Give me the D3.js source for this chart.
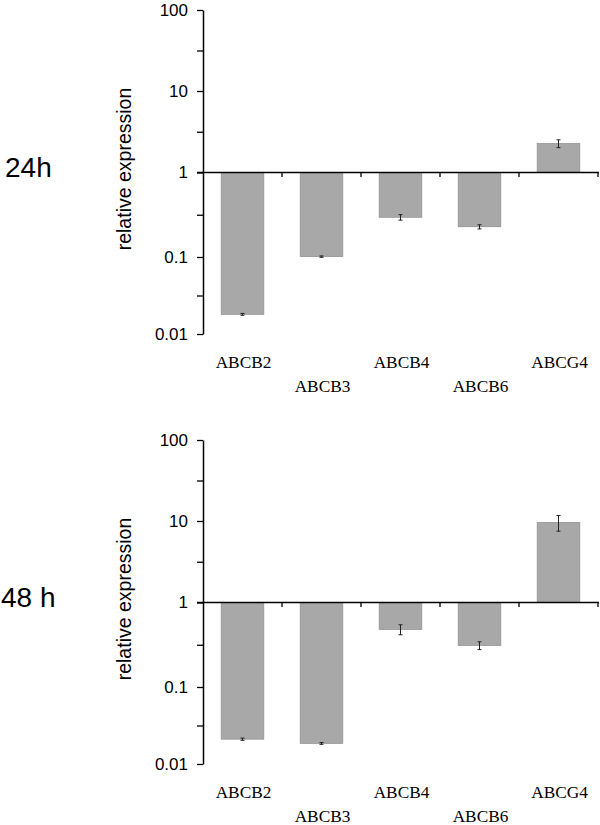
<!DOCTYPE html>
<html>
<head>
<meta charset="utf-8">
<script src="https://cdn.jsdelivr.net/npm/d3@7"></script>
<style>
  html, body { margin: 0; padding: 0; background: #fff; }
  svg { display: block; }
</style>
</head>
<body>
<script>
// ---- data ----
const categories = ["ABCB2", "ABCB3", "ABCB4", "ABCB6", "ABCG4"];
const values24h = [0.018, 0.101, 0.295, 0.228, 2.27];
const errors24h = [0.0005, 0.002, 0.022, 0.013, 0.25];
const values48h = [0.021, 0.0185, 0.48, 0.31, 9.6];
const errors48h = [0.0007, 0.0005, 0.065, 0.033, 2.1];
const yTickValues = [0.01, 0.1, 1, 10, 100];
const yTickLabels = ["0.01", "0.1", "1", "10", "100"];
const panelTitles = ["24h", "48 h"];
const yAxisTitle = "relative expression";

const W = 600, H = 825;
const svg = d3.select("body").append("svg").attr("width", W).attr("height", H);

const SANS = "'Liberation Sans', Arial, Helvetica, sans-serif";
const SERIF = "'Liberation Serif', 'Times New Roman', serif";

const x = d3.scaleBand().domain(categories).range([203, 598]).padding(0);
const y = d3.scaleLog()
  .domain(yTickValues)
  .range([334, 257, 172.5, 91, 10]);

const minorTicks = yTickValues.slice(0, -1).map(v => v * Math.sqrt(10));
const allTicks = yTickValues.concat(minorTicks).sort((a, b) => a - b);

function drawPanel(offsetY, values, errors, title) {
  const g = svg.append("g").attr("transform", `translate(0,${offsetY})`);
  const barW = x.bandwidth() * 0.54;
  const barOff = (x.bandwidth() - barW) / 2;
  const data = categories.map((c, i) => ({ c, v: values[i], e: errors[i], i }));

  // bars
  g.selectAll("rect.bar").data(data).enter().append("rect")
    .attr("class", "bar")
    .attr("x", d => x(d.c) + barOff)
    .attr("width", barW)
    .attr("y", d => Math.min(y(d.v), y(1)))
    .attr("height", d => Math.abs(y(d.v) - y(1)))
    .attr("fill", "#a8a8a8")
    .attr("stroke", "#8e8e8e")
    .attr("stroke-width", 0.7);

  // error bars
  const eb = g.selectAll("g.err").data(data).enter().append("g").attr("class", "err");
  const cx = d => x(d.c) + x.bandwidth() / 2;
  eb.append("line")
    .attr("x1", cx).attr("x2", cx)
    .attr("y1", d => y(d.v + d.e)).attr("y2", d => y(Math.max(d.v - d.e, 1e-4)))
    .attr("stroke", "#222").attr("stroke-width", 1);
  eb.append("line")
    .attr("x1", d => cx(d) - 2).attr("x2", d => cx(d) + 2)
    .attr("y1", d => y(d.v + d.e)).attr("y2", d => y(d.v + d.e))
    .attr("stroke", "#222").attr("stroke-width", 1);
  eb.append("line")
    .attr("x1", d => cx(d) - 2).attr("x2", d => cx(d) + 2)
    .attr("y1", d => y(Math.max(d.v - d.e, 1e-4))).attr("y2", d => y(Math.max(d.v - d.e, 1e-4)))
    .attr("stroke", "#222").attr("stroke-width", 1);

  // y axis
  const yAxis = d3.axisLeft(y)
    .tickValues(allTicks)
    .tickSize(6)
    .tickSizeOuter(0)
    .tickPadding(9)
    .tickFormat(d => {
      const idx = yTickValues.indexOf(d);
      return idx >= 0 ? yTickLabels[idx] : "";
    });
  const ya = g.append("g").attr("transform", "translate(203,0)").call(yAxis);
  ya.select(".domain").attr("stroke", "#000").attr("stroke-width", 1.5);
  ya.selectAll(".tick line").attr("stroke", "#000").attr("stroke-width", 1.3);
  ya.selectAll(".tick text")
    .attr("font-family", SANS).attr("font-size", 17).attr("fill", "#000");

  // x axis line at value 1
  const y1 = y(1);
  g.append("line")
    .attr("x1", 197).attr("x2", 599)
    .attr("y1", y1).attr("y2", y1)
    .attr("stroke", "#000").attr("stroke-width", 1.5);
  g.selectAll("line.xtick").data(categories).enter().append("line")
    .attr("class", "xtick")
    .attr("x1", c => x(c) + x.bandwidth()).attr("x2", c => x(c) + x.bandwidth())
    .attr("y1", y1).attr("y2", y1 + 4.5)
    .attr("stroke", "#000").attr("stroke-width", 1.3);

  // category labels, staggered
  g.selectAll("text.cat").data(categories).enter().append("text")
    .attr("class", "cat")
    .attr("x", c => x(c) + x.bandwidth() / 2 + 1)
    .attr("y", (c, i) => i % 2 === 0 ? 368.3 : 391.7)
    .attr("text-anchor", "middle")
    .attr("font-family", SERIF).attr("font-size", 17.3).attr("fill", "#000")
    .text(c => c);

  // y axis title
  g.append("text")
    .attr("transform", `translate(131,169) rotate(-90)`)
    .attr("text-anchor", "middle")
    .attr("font-family", SANS).attr("font-size", 19.5).attr("fill", "#000")
    .text(yAxisTitle);

  // panel title
  g.append("text")
    .attr("x", title === "24h" ? 5 : 1)
    .attr("y", title === "24h" ? 176.7 : 176.7)
    .attr("font-family", SANS).attr("font-size", 28).attr("fill", "#000")
    .text(title);
}

drawPanel(0, values24h, errors24h, panelTitles[0]);
drawPanel(430, values48h, errors48h, panelTitles[1]);
</script>
</body>
</html>
